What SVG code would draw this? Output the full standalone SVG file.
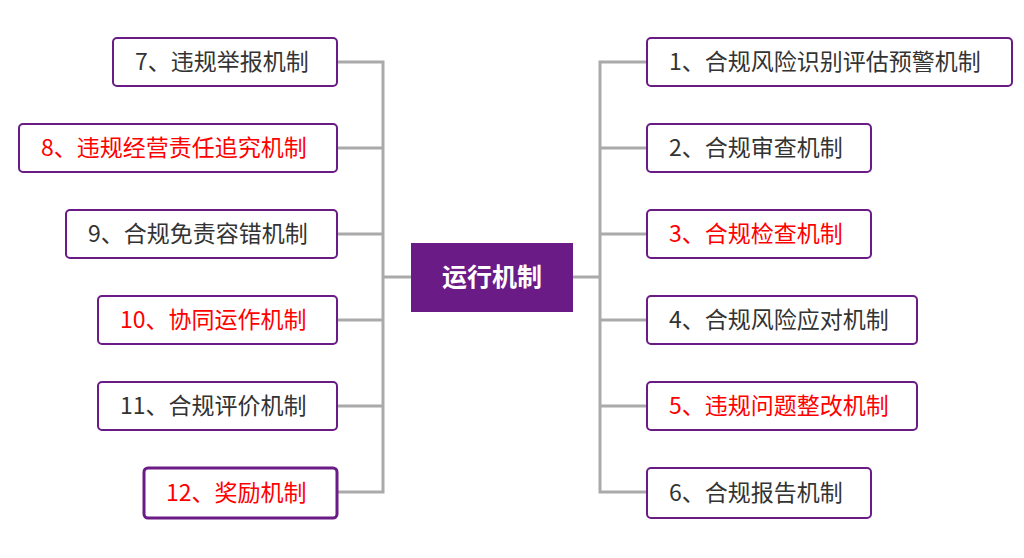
<svg xmlns="http://www.w3.org/2000/svg" width="1024" height="558" viewBox="0 0 1024 558">
<style>
.n{fill:#fff;stroke:#6a1b86;stroke-width:2}
.t{font-family:"Noto Sans CJK SC","Noto Sans",sans-serif;font-size:23px;fill:#333;dominant-baseline:central}
.r{fill:#f00}
.c{fill:none;stroke:#aaa;stroke-width:3}
</style>
<rect width="1024" height="558" fill="#fff"/>
<g id="connectors" class="c">
<path d="M337 62H383V492H337M337 148H383M337 234H383M337 320H383M337 406H383M383 277H411"/>
<path d="M647 62H600V492H647M647 148H600M647 234H600M647 320H600M647 406H600M600 277H573"/>
</g>
<g id="center"><rect x="411" y="243" width="162" height="69" fill="#6a1b86"/><text x="492" y="275" class="t" style="fill:#fff;font-weight:bold;font-size:25px" text-anchor="middle">运行机制</text></g>
<g id="n7"><rect class="n" x="113" y="38" width="224" height="48" rx="4"/><text class="t" x="135" y="60">7、违规举报机制</text></g>
<g id="n8"><rect class="n" x="19" y="124" width="318" height="48" rx="4"/><text class="t r" x="41" y="146">8、违规经营责任追究机制</text></g>
<g id="n9"><rect class="n" x="66" y="210" width="271" height="48" rx="4"/><text class="t" x="88" y="232">9、合规免责容错机制</text></g>
<g id="n10"><rect class="n" x="98" y="296" width="239" height="48" rx="4"/><text class="t r" x="120" y="318">10、协同运作机制</text></g>
<g id="n11"><rect class="n" x="98" y="382" width="239" height="48" rx="4"/><text class="t" x="120" y="404">11、合规评价机制</text></g>
<g id="n12"><rect class="n" x="144" y="468" width="193" height="50" rx="4" style="stroke-width:3"/><text class="t r" x="166" y="491">12、奖励机制</text></g>
<g id="n1"><rect class="n" x="647" y="38" width="365" height="48" rx="4"/><text class="t" x="669" y="60">1、合规风险识别评估预警机制</text></g>
<g id="n2"><rect class="n" x="647" y="124" width="224" height="48" rx="4"/><text class="t" x="669" y="146">2、合规审查机制</text></g>
<g id="n3"><rect class="n" x="647" y="210" width="224" height="48" rx="4"/><text class="t r" x="669" y="232">3、合规检查机制</text></g>
<g id="n4"><rect class="n" x="647" y="296" width="270" height="48" rx="4"/><text class="t" x="669" y="318">4、合规风险应对机制</text></g>
<g id="n5"><rect class="n" x="647" y="382" width="270" height="48" rx="4"/><text class="t r" x="669" y="404">5、违规问题整改机制</text></g>
<g id="n6"><rect class="n" x="647" y="468" width="224" height="50" rx="4"/><text class="t" x="669" y="491">6、合规报告机制</text></g>
</svg>
